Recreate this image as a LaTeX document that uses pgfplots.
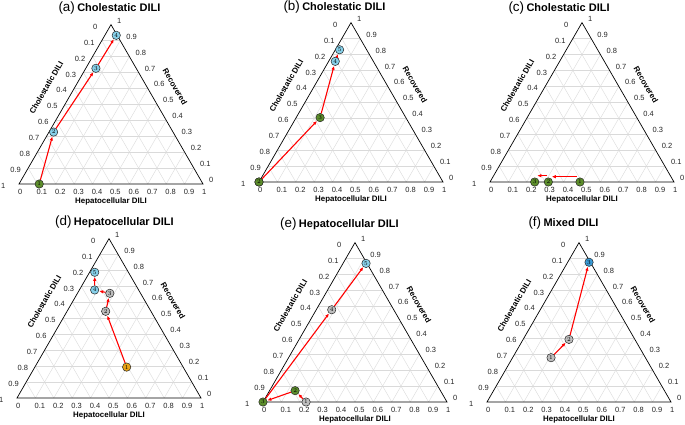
\documentclass[border=0pt]{standalone}
\usepackage{pgfplots}
\pgfplotsset{compat=1.18}
\usepackage{pgfplotstable}
\usetikzlibrary{arrows.meta}
\usepackage{fontspec}
\setmainfont{Liberation Sans}

\definecolor{cB}{HTML}{86CFE8}
\definecolor{cDB}{HTML}{3A9AD5}
\definecolor{cG}{HTML}{5C8D2B}
\definecolor{cY}{HTML}{E8A317}
\definecolor{cGr}{HTML}{BDBDBD}
\definecolor{gridc}{HTML}{DADADA}

\pgfplotsset{
  tern/.style={hide axis, x=184pt, y=184pt, xmin=0, xmax=1, ymin=0, ymax=0.8660254,
    clip=false, anchor=south west, enlargelimits=false},
  table/tc/.style={x expr=\thisrow{h}+0.5*\thisrow{r}, y expr=0.8660254*\thisrow{r}},
  arr/.style={red, line width=1.1pt, -{Latex[length=4pt,width=3.4pt]}, shorten >=4.6pt, shorten <=4.3pt},
  arrc/.style={red, line width=1.1pt, -{Latex[length=4pt,width=3.4pt]}},
}

\tikzset{
  tk/.style={font=\fontsize{7.5}{8}\selectfont, text=black!85, inner sep=0pt},
  lb/.style={font=\bfseries\fontsize{7.9}{9}\selectfont, inner sep=0pt},
}

\newcommand\tframe[2]{%
\begin{scope}[shift={(#1pt,-#2pt)}, x=184pt, y=184pt]
\foreach \i in {1,...,9}{%
  \pgfmathsetmacro\tv{\i/10}%
  \draw[gridc, line width=0.4pt] ({\tv/2},{0.8660254*\tv}) -- ({1-\tv/2},{0.8660254*\tv});
  \draw[gridc, line width=0.4pt] (\tv,0) -- ({(1+\tv)/2},{0.8660254*(1-\tv)});
  \draw[gridc, line width=0.4pt] (\tv,0) -- ({\tv/2},{0.8660254*\tv});
}
\draw[black, line width=0.7pt, line join=miter] (0,0) -- (1,0) -- (0.5,0.8660254) -- cycle;
\foreach \i in {0,...,10}{%
  \pgfmathsetmacro\tv{\i/10}%
  \ifnum\i=0 \def\tl{0}\else\ifnum\i=10 \def\tl{1}\else\edef\tl{0.\i}\fi\fi
  \node[tk, anchor=west, xshift=-1pt, yshift=-8pt] at (\tv,0) {\tl};
  \node[tk, anchor=west, xshift=-18pt, yshift=-2pt] at ({(1-\tv)/2},{0.8660254*(1-\tv)}) {\tl};
  \node[tk, anchor=west, xshift=6pt, yshift=4pt] at ({1-\tv/2},{0.8660254*\tv}) {\tl};
}
\node[lb, yshift=-17.5pt] at (0.5,0) {Hepatocellular DILI};
\node[lb, rotate=60] at (0.148,0.524) {Cholestatic DILI};
\node[lb, rotate=-60] at (0.848,0.529) {Recovered};
\end{scope}}

\newcommand\ttitle[4]{%
\node[anchor=base west, inner sep=0pt] at (#1pt,-#2pt)
  {{\fontsize{13.4}{14}\selectfont(#3)}\hspace{2.4pt}{\bfseries\fontsize{11}{12}\selectfont #4}};}

% arrow segment between rows #2 and #3 of table #1
\newcommand\seg[3]{\addplot[arr, restrict expr to domain={\coordindex}{#2:#3}] table[tc]{#1};}
% markers of colour class #2 (column k) of table #1, filled with colour #3, numbered by column n
\newcommand\pts[3]{\addplot[only marks, mark=*, mark size=4.2pt,
    mark options={fill=#3, draw=black!85, line width=0.5pt},
    restrict expr to domain={\thisrow{k}}{#2:#2},
    point meta=explicit,
    nodes near coords={\pgfmathprintnumber{\pgfplotspointmeta}},
    every node near coord/.append style={anchor=center, inner sep=0pt, text=black,
      font=\fontsize{6}{6}\selectfont}]
  table[tc, meta=n]{#1};}

% k: 1 green, 2 light blue, 3 grey, 4 orange, 5 blue
\pgfplotstableread{
h r n k
0.11 0 1 1
0.025 0.326 2 2
0.055 0.726 3 2
0.062 0.933 4 2
}\tabA
\pgfplotstableread{
h r n k
0 0 1 1
0 0 2 1
0.13 0.404 3 1
0.036 0.757 4 2
0.023 0.830 5 2
}\tabB
\pgfplotstableread{
h r n k
0.489 0 1 1
0.317 0 2 1
0.243 0 3 1
}\tabC
\pgfplotstableread{
h r
0.455 0.0333
0.319 0.0333
}\arrCa
\pgfplotstableread{
h r
0.291 0.0396
0.237 0.0396
}\arrCb
\pgfplotstableread{
h r n k
0.499 0.194 1 4
0.21 0.544 2 3
0.176 0.657 3 3
0.083 0.678 4 2
0.028 0.789 5 2
}\tabD
\pgfplotstableread{
h r n k
0.234 0 1 3
0.139 0.071 2 1
0 0 3 1
0.084 0.579 4 3
0.125 0.870 5 2
}\tabE
\pgfplotstableread{
h r n k
0.209 0.278 1 3
0.249 0.393 2 3
0.116 0.877 3 5
}\tabF

\begin{document}
\begin{tikzpicture}
\useasboundingbox (0,0) rectangle (685pt,-425pt);

\tframe{19}{184}
\tframe{259}{182}
\tframe{490}{182}
\tframe{17}{398}
\tframe{263}{402}
\tframe{487}{402}

\ttitle{58.3}{11.5}{a}{Cholestatic DILI}
\ttitle{283.3}{11}{b}{Cholestatic DILI}
\ttitle{508.3}{11.5}{c}{Cholestatic DILI}
\ttitle{55}{225}{d}{Hepatocellular DILI}
\ttitle{280}{227.3}{e}{Hepatocellular DILI}
\ttitle{528.3}{226.7}{f}{Mixed DILI}

% (a)
\begin{axis}[tern, at={(19pt,-184pt)}]
\seg{\tabA}{0}{1}
\seg{\tabA}{1}{2}
\seg{\tabA}{2}{3}
\pts{\tabA}{1}{cG}
\pts{\tabA}{2}{cB}
\end{axis}

% (b)
\begin{axis}[tern, at={(259pt,-182pt)}]
\seg{\tabB}{1}{2}
\seg{\tabB}{2}{3}
\seg{\tabB}{3}{4}
\pts{\tabB}{1}{cG}
\pts{\tabB}{2}{cB}
\end{axis}

% (c)
\begin{axis}[tern, at={(490pt,-182pt)}]
\addplot[arrc] table[tc]{\arrCa};
\addplot[arrc] table[tc]{\arrCb};
\pts{\tabC}{1}{cG}
\end{axis}

% (d)
\begin{axis}[tern, at={(17pt,-398pt)}]
\seg{\tabD}{0}{1}
\seg{\tabD}{1}{2}
\seg{\tabD}{2}{3}
\seg{\tabD}{3}{4}
\pts{\tabD}{4}{cY}
\pts{\tabD}{3}{cGr}
\pts{\tabD}{2}{cB}
\end{axis}

% (e)
\begin{axis}[tern, at={(263pt,-402pt)}]
\seg{\tabE}{0}{1}
\seg{\tabE}{1}{2}
\seg{\tabE}{2}{3}
\seg{\tabE}{3}{4}
\pts{\tabE}{3}{cGr}
\pts{\tabE}{1}{cG}
\pts{\tabE}{2}{cB}
\end{axis}

% (f)
\begin{axis}[tern, at={(487pt,-402pt)}]
\seg{\tabF}{0}{1}
\seg{\tabF}{1}{2}
\pts{\tabF}{3}{cGr}
\pts{\tabF}{5}{cDB}
\end{axis}
\end{tikzpicture}
\end{document}
